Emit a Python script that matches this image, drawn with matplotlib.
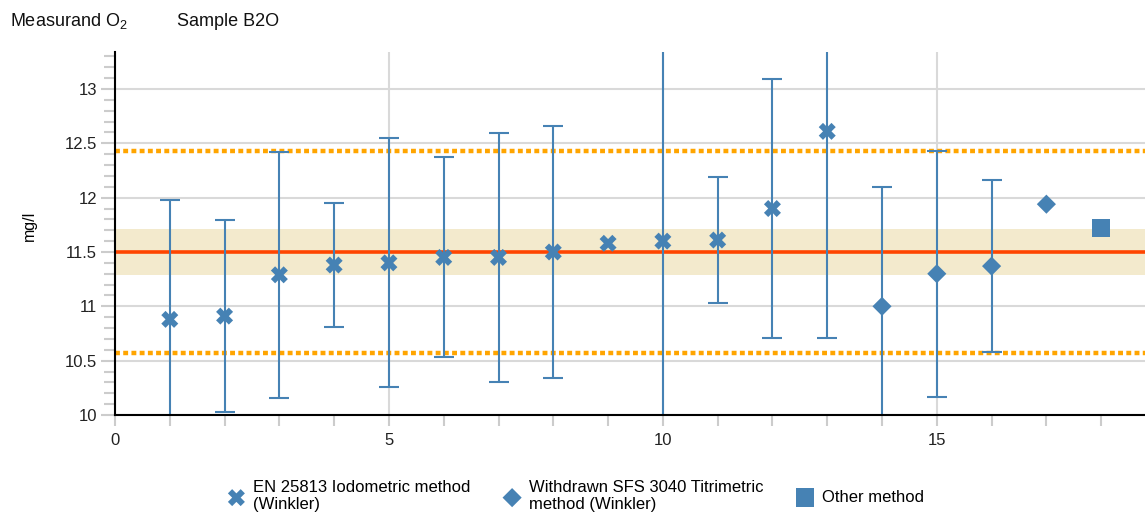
import numpy as np
import matplotlib
matplotlib.use("Agg")
import matplotlib.pyplot as plt
from matplotlib.ticker import MultipleLocator

plt.rcParams["font.family"] = ["Liberation Sans", "DejaVu Sans"]
plt.rcParams["mathtext.fontset"] = "custom"
plt.rcParams["mathtext.rm"] = "Liberation Sans"
plt.rcParams["mathtext.default"] = "regular"

# Participant results, grouped by analytical method
iodo_labs = [1, 2, 3, 4, 5, 6, 7, 8, 9, 10, 11, 12, 13]
iodo_values = [10.88, 10.91, 11.29, 11.38, 11.40, 11.45, 11.45, 11.50, 11.58, 11.60, 11.61, 11.90, 12.61]
iodo_unc = [1.10, 0.88, 1.13, 0.57, 1.145, 0.92, 1.145, 1.155, np.nan, 2.0, 0.58, 1.19, 1.90]

sfs_labs = [14, 15, 16, 17]
sfs_values = [11.00, 11.30, 11.37, 11.94]
sfs_unc = [1.10, 1.13, 0.79, np.nan]

other_labs = [18]
other_values = [11.72]

assigned_value = 11.50
assigned_unc = 0.21
tolerance = 0.925

legend_labels = ["EN 25813 Iodometric method\n(Winkler)",
                 "Withdrawn SFS 3040 Titrimetric\nmethod (Winkler)",
                 "Other method"]

blue = "#4682B4"

fig = plt.figure(figsize=(11.45, 5.13), dpi=100)
ax = fig.add_axes([115 / 1145, 1 - 415 / 513, 1 - 115 / 1145, (415 - 51.5) / 513])

ax.set_xlim(0, 18.8)
ax.set_ylim(10, 13.345)

# Assigned value with its uncertainty band and tolerance limits
ax.axhspan(assigned_value - assigned_unc, assigned_value + assigned_unc,
           color="#F3EACD", zorder=1, lw=0)
ax.axhline(assigned_value, color="#FF4500", lw=2.6, zorder=2)
for lim in (assigned_value + tolerance, assigned_value - tolerance):
    ax.axhline(lim, color="#FFA500", lw=3.2, ls=(0, (1.1, 0.75)),
               dash_capstyle="butt", zorder=2)


def draw_errorbars(xs, ys, us):
    xs = np.asarray(xs, float)
    ys = np.asarray(ys, float)
    us = np.asarray(us, float)
    ok = ~np.isnan(us)
    ax.errorbar(xs[ok], ys[ok], yerr=us[ok], fmt="none", ecolor=blue,
                elinewidth=1.5, capsize=7.5, capthick=1.5, zorder=3)


draw_errorbars(iodo_labs, iodo_values, iodo_unc)
draw_errorbars(sfs_labs, sfs_values, sfs_unc)

h1 = ax.scatter(iodo_labs, iodo_values, marker="X", s=150, color=blue,
                edgecolors="none", zorder=4, label=legend_labels[0])
h2 = ax.scatter(sfs_labs, sfs_values, marker="D", s=95, color=blue,
                edgecolors="none", zorder=4, label=legend_labels[1])
h3 = ax.scatter(other_labs, other_values, marker="s", s=180, color=blue,
                edgecolors="none", zorder=4, label=legend_labels[2])

# Axes styling
for side in ("top", "right"):
    ax.spines[side].set_visible(False)
for side in ("left", "bottom"):
    ax.spines[side].set_linewidth(1.5)
    ax.spines[side].set_color("black")
    ax.spines[side].set_zorder(5)

ax.xaxis.set_major_locator(MultipleLocator(5))
ax.xaxis.set_minor_locator(MultipleLocator(1))
ax.yaxis.set_major_locator(MultipleLocator(0.5))
ax.yaxis.set_minor_locator(MultipleLocator(0.1))
ax.set_yticks(np.arange(10, 13.01, 0.5))
ax.set_yticklabels(["10", "10.5", "11", "11.5", "12", "12.5", "13"])

ax.tick_params(axis="both", which="major", color="#CCCCCC", width=1.5,
               length=10, labelsize=12, labelcolor="#222222", pad=3)
ax.tick_params(axis="both", which="minor", color="#CCCCCC", width=1.5, length=8)
ax.tick_params(axis="x", which="major", length=8, pad=5)

ax.grid(True, which="major", color="#D9D9D9", lw=1.5, zorder=0)
ax.set_axisbelow(True)

ax.set_ylabel("mg/l", fontsize=11.5)
ax.yaxis.set_label_coords(-78 / 1030, 0.52)

fig.text(10 / 1145, 1 - 21 / 513, "Measurand O$_2$", fontsize=13,
         va="center", ha="left", color="#111111")
fig.text(177 / 1145, 1 - 21 / 513, "Sample B2O", fontsize=13,
         va="center", ha="left", color="#111111")

fig.legend(handles=[h1, h2, h3], labels=legend_labels, loc="center",
           bbox_to_anchor=(575 / 1145, 1 - 496 / 513), ncol=3, frameon=False,
           fontsize=12, handletextpad=0.4, columnspacing=1.9,
           labelspacing=0.2, handlelength=1.2, scatterpoints=1)

fig.savefig("out.png", dpi=100)
